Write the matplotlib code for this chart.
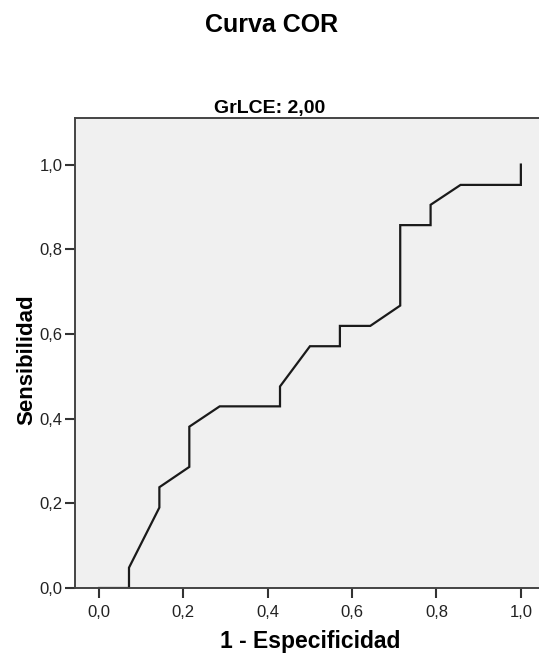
import matplotlib.pyplot as plt
from matplotlib.ticker import FuncFormatter

plt.rcParams['font.family'] = ['Liberation Sans', 'DejaVu Sans']

# Curva COR: puntos (1 - especificidad, sensibilidad)
fpr = [0.0, 0.071, 0.071, 0.143, 0.143, 0.214, 0.214, 0.286, 0.429, 0.429,
       0.5, 0.571, 0.571, 0.643, 0.714, 0.714, 0.786, 0.786, 0.857, 1.0, 1.0]
tpr = [0.0, 0.0, 0.048, 0.190, 0.238, 0.286, 0.381, 0.429, 0.429, 0.476,
       0.571, 0.571, 0.619, 0.619, 0.667, 0.857, 0.857, 0.905, 0.952, 0.952, 1.0]
ticks = [0.0, 0.2, 0.4, 0.6, 0.8, 1.0]

fig = plt.figure(figsize=(5.39, 6.57), dpi=100)
ax = fig.add_axes([75 / 539, 69 / 657, 1 - 75 / 539, 470 / 657])
ax.set_facecolor('#f0f0f0')
ax.plot(fpr, tpr, color='#1a1a1a', linewidth=1.6, solid_joinstyle='miter')

ax.set_xlim(-0.057, 1.043)
ax.set_ylim(0, 1.11)
ax.set_xticks(ticks)
ax.set_yticks(ticks)
fmt = FuncFormatter(lambda v, p: f'{v:.1f}'.replace('.', ','))
ax.xaxis.set_major_formatter(fmt)
ax.yaxis.set_major_formatter(fmt)
ax.tick_params(direction='out', length=7, width=1.5, color='#333333',
               labelsize=12, labelcolor='#222222')
ax.tick_params(axis='x', pad=5)
ax.tick_params(axis='y', pad=2)

for side in ['left', 'top', 'bottom']:
    ax.spines[side].set_color('#444444')
    ax.spines[side].set_linewidth(1.4)
ax.spines['right'].set_visible(False)

fig.text(272 / 539, 1 - 25 / 657, 'Curva COR', ha='center', va='center',
         fontsize=18, fontweight='bold')
fig.text(270 / 539, 1 - 113 / 657, 'GrLCE: 2,00', ha='center', va='baseline',
         fontsize=14, fontweight='bold')
fig.text(310 / 539, 1 - 648 / 657, '1 - Especificidad', ha='center', va='baseline',
         fontsize=16.5, fontweight='bold')
fig.text(32 / 539, 1 - 360 / 657, 'Sensibilidad', ha='center', va='baseline',
         fontsize=16, fontweight='bold', rotation=90, rotation_mode='anchor')

fig.savefig('out.png', dpi=100)
